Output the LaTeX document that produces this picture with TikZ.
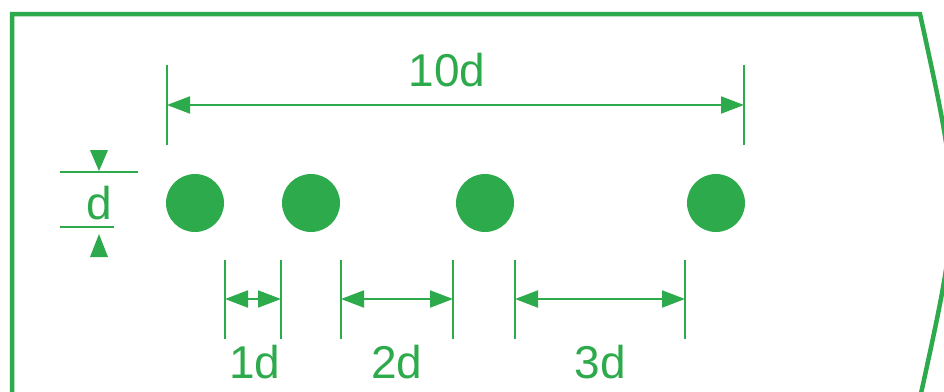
\documentclass[tikz,border=0pt]{standalone}
\usepackage{fontspec}
\setmainfont{Liberation Sans}
\usetikzlibrary{arrows.meta}
\definecolor{grn}{RGB}{45,170,75}
\begin{document}
\begin{tikzpicture}[x=1pt,y=-1pt,
  dot/.style={circle,fill=grn,draw=none,minimum size=58pt,inner sep=0pt},
  extline/.style={draw=grn,line width=1.6pt},
  dimline/.style={draw=grn,line width=2pt,{Triangle[length=23pt,width=17pt]}-{Triangle[length=23pt,width=17pt]}},
  lbl/.style={text=grn,inner sep=0pt,font=\fontsize{46}{50}\selectfont},
  refline/.style={draw=grn,line width=2.6pt},
  tip/.style={fill=grn,draw=none}]
\useasboundingbox (0,0) rectangle (944,391);
\begin{scope}
\clip (0,0) rectangle (944,391);
\draw[grn,line width=4.5pt,line join=miter] (12,410) -- (12,14) -- (920,14) .. controls (962,206) .. (920,398);
\end{scope}
% circles
\node[dot] (c1) at (195,203) {};
\node[dot] (c2) at (311,203) {};
\node[dot] (c3) at (485,203) {};
\node[dot] (c4) at (716,203) {};
% 10d dimension
\coordinate (ta1) at (167,65);  \coordinate (tb1) at (167,145);
\coordinate (ta2) at (744,65);  \coordinate (tb2) at (744,145);
\coordinate (tl) at (167,105);  \coordinate (tr) at (744,105);
\draw[extline] (ta1) -- (tb1);
\draw[extline] (ta2) -- (tb2);
\draw[dimline] (tl) -- (tr);
\node[lbl] (t10) at (447,70) {10d};
% bottom dimensions
\foreach \n/\x in {a/225,b/281,c/341,d/453,e/515,f/685}{
  \coordinate (u\n) at (\x,260);
  \coordinate (l\n) at (\x,339);
  \coordinate (m\n) at (\x,299);
  \draw[extline] (u\n) -- (l\n);
}
\draw[dimline] (ma) -- (mb);
\draw[dimline] (mc) -- (md);
\draw[dimline] (me) -- (mf);
\node[lbl] (t1) at (255,362) {1d};
\node[lbl] (t2) at (397,362) {2d};
\node[lbl] (t3) at (600,362) {3d};
% d dimension
\coordinate (r1a) at (60,172); \coordinate (r1b) at (138,172);
\coordinate (r2a) at (60,227); \coordinate (r2b) at (114,227);
\draw[refline] (r1a) -- (r1b);
\draw[refline] (r2a) -- (r2b);
\fill[tip] (90,150) -- (108,150) -- (99,171) -- cycle;
\fill[tip] (90,257) -- (108,257) -- (99,234) -- cycle;
\node[lbl] (td) at (99,203) {d};
\end{tikzpicture}
\end{document}
